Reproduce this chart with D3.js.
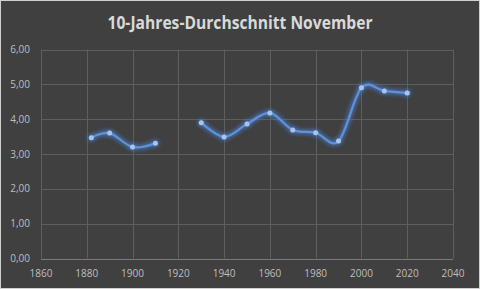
<!DOCTYPE html>
<html><head><meta charset="utf-8">
<script src="https://cdn.jsdelivr.net/npm/d3@7"></script>
<style>
html,body{margin:0;padding:0;background:#404040;}
svg{display:block;}
</style></head>
<body>
<script>
const years = [1882, 1890, 1900, 1910, 1920, 1930, 1940, 1950, 1960, 1970, 1980, 1990, 2000, 2010, 2020];
const values = [3.47, 3.60, 3.20, 3.31, null, 3.90, 3.49, 3.86, 4.18, 3.69, 3.61, 3.37, 4.90, 4.81, 4.75];
const xTicks = [1860, 1880, 1900, 1920, 1940, 1960, 1980, 2000, 2020, 2040];
const yTicks = [0, 1, 2, 3, 4, 5, 6];
const title = "10-Jahres-Durchschnitt November";

const W = 480, H = 289;
const svg = d3.select("body").append("svg").attr("width", W).attr("height", H);

svg.append("rect").attr("x",0.5).attr("y",0.5).attr("width",W-1).attr("height",H-1)
  .attr("fill","#404040").attr("stroke","#d0d0d0").attr("stroke-width",1);

const defs = svg.append("defs");
const f = defs.append("filter").attr("id","glow").attr("x","-20%").attr("y","-50%").attr("width","140%").attr("height","200%");
f.append("feGaussianBlur").attr("in","SourceAlpha").attr("stdDeviation",2.6).attr("result","b");
f.append("feFlood").attr("flood-color","#4a7fd0").attr("flood-opacity",0.9).attr("result","c");
f.append("feComposite").attr("in","c").attr("in2","b").attr("operator","in").attr("result","g");
const m = f.append("feMerge");
m.append("feMergeNode").attr("in","g");
m.append("feMergeNode").attr("in","g");
m.append("feMergeNode").attr("in","SourceGraphic");

const x = d3.scaleLinear().domain([1860, 2040]).range([41, 453]);
const y = d3.scaleLinear().domain([0, 6]).range([258.5, 49.5]);

const grid = svg.append("g");
grid.selectAll("line.h").data(yTicks).join("line")
  .attr("x1", x(1860)).attr("x2", x(2040))
  .attr("y1", d => Math.round(y(d))+0.5).attr("y2", d => Math.round(y(d))+0.5)
  .attr("stroke", d => d===0 ? "#7a7a7a" : "#5e5e5e").attr("stroke-width",1);
grid.selectAll("line.v").data(xTicks).join("line")
  .attr("x1", d => Math.round(x(d))+0.5).attr("x2", d => Math.round(x(d))+0.5)
  .attr("y1", y(6)).attr("y2", y(0))
  .attr("stroke", "#5e5e5e").attr("stroke-width",1);

const fmt = d => d3.format(".2f")(d).replace(".", ",");
svg.append("g").selectAll("text").data(yTicks).join("text")
  .attr("x", 30).attr("y", d => y(d)+3.5)
  .attr("text-anchor","end").attr("fill","#bfbfbf")
  .attr("font-family","'Open Sans', 'Liberation Sans', sans-serif").attr("font-size",10)
  .text(fmt);
svg.append("g").selectAll("text").data(xTicks).join("text")
  .attr("x", d => x(d)).attr("y", 277)
  .attr("text-anchor","middle").attr("fill","#bfbfbf")
  .attr("font-family","'Open Sans', 'Liberation Sans', sans-serif").attr("font-size",10)
  .text(d => d);

svg.append("text").attr("x", 240).attr("y", 29).attr("text-anchor","middle")
  .attr("fill","#d9d9d9").attr("font-weight","bold")
  .attr("font-family","'Open Sans', 'Liberation Sans', sans-serif").attr("font-size",17)
  .attr("textLength", 265).attr("lengthAdjust","spacingAndGlyphs")
  .text(title);

const data = years.map((yr,i) => ({yr, v: values[i]}));
const line = d3.line().defined(d => d.v !== null).x(d => x(d.yr)).y(d => y(d.v))
  .curve(d3.curveCardinal.tension(0));
const gl = svg.append("g").attr("filter","url(#glow)");
gl.append("path").datum(data).attr("d", line).attr("fill","none")
  .attr("stroke","#5f92da").attr("stroke-width",2.2);
gl.selectAll("circle").data(data.filter(d => d.v !== null)).join("circle")
  .attr("cx", d => x(d.yr)).attr("cy", d => y(d.v)).attr("r", 2.5)
  .attr("fill","#a9c4ec");
</script>
</body></html>
